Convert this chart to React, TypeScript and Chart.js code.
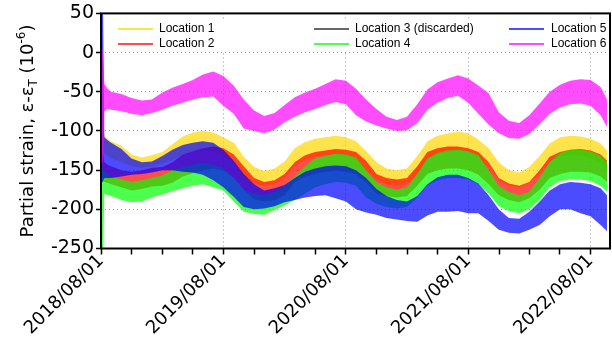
import React, { useEffect, useRef } from "react";
import { Chart, registerables } from "chart.js";

Chart.register(...registerables);

// Sample days, counted from 2018/08/01
const DAYS = [
  3, 6, 10, 20, 30, 61, 91, 122, 152, 183, 213, 244, 274, 304, 335, 365,
  396, 426, 457, 487, 518, 548, 578, 609, 639, 670, 700, 731,
  761, 791, 822, 852, 883, 913, 944, 974, 1004, 1035, 1065, 1096,
  1126, 1157, 1187, 1217, 1248, 1278, 1309, 1339, 1370, 1400, 1431, 1461,
  1491, 1510,
];

// Location 1 (upper / lower envelope of the band)
const LOC1_UPPER = [
  -95, -95, -105, -110,
  -113, -119, -130, -134, -131, -127, -117, -107, -102, -100, -102, -108,
  -115, -133, -146, -151, -148, -139, -122, -114, -110, -108, -106, -108,
  -113, -126, -140, -148, -150, -148, -132, -113, -106, -103, -101, -103,
  -111, -122, -140, -150, -153, -146, -132, -116, -108, -106, -107, -110,
  -116, -125,
];
const LOC1_LOWER = [
  -140, -140, -128, -132,
  -135, -140, -145, -147, -145, -142, -137, -130, -126, -124, -126, -132,
  -140, -158, -167, -170, -168, -160, -145, -137, -133, -131, -130, -132,
  -137, -150, -163, -168, -170, -168, -155, -137, -130, -127, -125, -127,
  -134, -146, -163, -170, -172, -166, -155, -140, -132, -130, -131, -134,
  -140, -148,
];

// Location 2
const LOC2_UPPER = [
  -130, -130, -140, -143,
  -145, -150, -152, -150, -147, -146, -140, -130, -126, -122, -120, -122,
  -130, -145, -160, -165, -163, -155, -140, -131, -127, -125, -123, -124,
  -127, -138, -155, -160, -162, -160, -145, -127, -122, -120, -120, -122,
  -127, -140, -160, -167, -170, -165, -150, -133, -127, -124, -123, -125,
  -130, -138,
];
const LOC2_LOWER = [
  -160, -160, -165, -166,
  -168, -172, -176, -174, -171, -170, -166, -158, -154, -150, -148, -150,
  -160, -175, -187, -190, -188, -182, -165, -158, -155, -152, -150, -152,
  -155, -165, -180, -183, -185, -183, -170, -155, -150, -148, -148, -150,
  -156, -168, -182, -188, -191, -186, -175, -160, -155, -152, -152, -153,
  -158, -165,
];

// Location 4
const LOC4_UPPER = [
  -150, -150, -152, -155,
  -158, -162, -165, -163, -160, -157, -150, -146, -143, -141, -143, -148,
  -160, -175, -180, -182, -178, -170, -158, -145, -135, -132, -129, -130,
  -134, -150, -165, -172, -175, -172, -155, -135, -128, -125, -124, -126,
  -131, -150, -170, -178, -182, -178, -160, -140, -128, -124, -124, -126,
  -132, -140,
];
const LOC4_LOWER = [
  -260, -260, -180, -182,
  -183, -188, -191, -190, -185, -181, -177, -173, -170, -168, -172, -176,
  -190, -203, -206, -207, -201, -195, -188, -180, -172, -168, -165, -166,
  -170, -185, -193, -197, -199, -197, -185, -170, -163, -160, -160, -162,
  -168, -180, -196, -202, -205, -200, -188, -172, -164, -162, -162, -164,
  -170, -178,
];

// Location 5
const LOC5_UPPER = [
  60, 60, -108, -112,
  -115, -123, -135, -140, -139, -132, -124, -118, -115, -113, -115, -124,
  -138, -155, -168, -176, -173, -169, -160, -152, -148, -145, -144, -145,
  -150, -160, -174, -183, -188, -190, -183, -168, -159, -156, -156, -160,
  -167, -182, -200, -211, -212, -203, -190, -176, -168, -165, -166, -168,
  -173, -182,
];
const LOC5_LOWER = [
  -165, -165, -160, -160,
  -160, -158, -156, -155, -153, -150, -150, -152, -153, -156, -163, -172,
  -184, -197, -200, -199, -196, -191, -188, -185, -183, -182, -186, -190,
  -200, -204, -207, -211, -213, -215, -216, -208, -203, -203, -202, -205,
  -205, -215, -226, -230, -231, -226, -220, -209, -200, -200, -205, -209,
  -220, -228,
];

// Location 6
const LOC6_UPPER = [
  5, 0, -40, -46,
  -50, -53, -58, -61, -60, -51, -45, -40, -35, -28, -24, -30,
  -42, -60, -74, -81, -77, -67, -57, -51, -46, -40, -34, -36,
  -46, -60, -72, -82, -86, -82, -66, -47, -38, -33, -29, -33,
  -42, -52, -76, -87, -90, -80, -65, -50, -41, -36, -34, -35,
  -44, -60,
];
const LOC6_LOWER = [
  -140, -140, -75, -72,
  -73, -75, -78, -80, -77, -73, -68, -64, -60, -57, -56, -68,
  -78, -97, -100, -103, -98, -89, -82, -76, -72, -67, -63, -66,
  -80, -88, -93, -97, -100, -99, -90, -73, -64, -58, -55, -64,
  -78, -92, -103, -109, -110, -104, -91, -78, -70, -66, -65, -68,
  -80, -95,
];

const SERIES_NAMES = [
  "Location 1",
  "Location 2",
  "Location 3 (discarded)",
  "Location 4",
  "Location 5",
  "Location 6",
];
const SERIES_COLORS = [
  "rgba(255,215,0,0.7)",
  "rgba(255,0,0,0.7)",
  "rgba(40,40,40,0.7)",
  "rgba(0,255,0,0.7)",
  "rgba(0,0,255,0.7)",
  "rgba(255,0,255,0.7)",
];

const MAJOR_TICK_DAYS = [0, 365, 731, 1096, 1461];
const MAJOR_TICK_LABELS = ["2018/08/01", "2019/08/01", "2020/08/01", "2021/08/01", "2022/08/01"];
const MINOR_TICK_DAYS = [92, 184, 273, 457, 549, 639, 823, 915, 1004, 1188, 1280, 1369];
const Y_TICKS = [-250, -200, -150, -100, -50, 0, 50];

const Y_TICK_FONT = { family: "'DejaVu Sans', sans-serif", size: 19 };
const X_TICK_FONT = { family: "'DejaVu Sans', sans-serif", size: 18 };

function bandDatasets(lower: number[], upper: number[], color: string, order: number, label: string) {
  const lo = {
    label: label + " (lower)",
    data: DAYS.map((d, i) => ({ x: d, y: lower[i] })),
    borderWidth: 0,
    borderColor: "rgba(0,0,0,0)",
    backgroundColor: color,
    pointRadius: 0,
    fill: false,
    order,
  };
  const up = {
    label,
    data: DAYS.map((d, i) => ({ x: d, y: upper[i] })),
    borderWidth: 0,
    borderColor: "rgba(0,0,0,0)",
    backgroundColor: color,
    pointRadius: 0,
    fill: "-1",
    order,
  };
  return [lo, up];
}

const legendPlugin = {
  id: "customLegend",
  afterDatasetsDraw(chart: any) {
    const ctx = chart.ctx as CanvasRenderingContext2D;
    const area = chart.chartArea;
    ctx.save();
    ctx.fillStyle = "#ffffff";
    ctx.fillRect(area.left + 5, 19, area.right - area.left - 8, 32);
    const cols = [
      { lineX: 118, textX: 159 },
      { lineX: 314, textX: 355 },
      { lineX: 509, textX: 551 },
    ];
    const rows = [29, 44];
    ctx.font = "12px 'Liberation Sans', Arial, sans-serif";
    ctx.textBaseline = "middle";
    ctx.textAlign = "left";
    SERIES_NAMES.forEach((name, i) => {
      const c = cols[Math.floor(i / 2)];
      const y = rows[i % 2];
      ctx.strokeStyle = SERIES_COLORS[i];
      ctx.lineWidth = 2;
      ctx.beginPath();
      ctx.moveTo(c.lineX, y);
      ctx.lineTo(c.lineX + 35, y);
      ctx.stroke();
      ctx.fillStyle = "#000";
      ctx.fillText(name, c.textX, y);
    });
    ctx.restore();
  },
  afterDraw(chart: any) {
    const ctx = chart.ctx as CanvasRenderingContext2D;
    const area = chart.chartArea;
    ctx.save();
    // frame
    ctx.strokeStyle = "#000";
    ctx.lineWidth = 2;
    ctx.strokeRect(area.left, area.top, area.right - area.left, area.bottom - area.top);
    // y-axis title with subscript / superscript
    const big = "18px 'DejaVu Sans', sans-serif";
    const small = "12px 'DejaVu Sans', sans-serif";
    const parts: [string, string, number][] = [
      ["Partial strain, ε-ε", big, 0],
      ["T", small, 4],
      [" (10", big, 0],
      ["-6", small, -8],
      [")", big, 0],
    ];
    let total = 0;
    parts.forEach(([t, f]) => {
      ctx.font = f;
      total += ctx.measureText(t).width;
    });
    const cy = (area.top + area.bottom) / 2;
    ctx.translate(33, cy);
    ctx.rotate(-Math.PI / 2);
    ctx.fillStyle = "#000";
    ctx.textBaseline = "alphabetic";
    ctx.textAlign = "left";
    let x = -total / 2;
    parts.forEach(([t, f, dy]) => {
      ctx.font = f;
      ctx.fillText(t, x, dy);
      x += ctx.measureText(t).width;
    });
    ctx.restore();
  },
};

export default function App() {
  const canvasRef = useRef<HTMLCanvasElement | null>(null);

  useEffect(() => {
    if (!canvasRef.current) return;
    const datasets = [
      ...bandDatasets(LOC1_LOWER, LOC1_UPPER, SERIES_COLORS[0], 10, SERIES_NAMES[0]),
      ...bandDatasets(LOC2_LOWER, LOC2_UPPER, SERIES_COLORS[1], 8, SERIES_NAMES[1]),
      ...bandDatasets(LOC4_LOWER, LOC4_UPPER, SERIES_COLORS[3], 6, SERIES_NAMES[3]),
      ...bandDatasets(LOC5_LOWER, LOC5_UPPER, SERIES_COLORS[4], 4, SERIES_NAMES[4]),
      ...bandDatasets(LOC6_LOWER, LOC6_UPPER, SERIES_COLORS[5], 2, SERIES_NAMES[5]),
    ];
    const allXTicks = [...MAJOR_TICK_DAYS, ...MINOR_TICK_DAYS].sort((a, b) => a - b);
    const chart = new Chart(canvasRef.current, {
      type: "line",
      data: { datasets: datasets as any },
      options: {
        animation: false,
        responsive: false,
        devicePixelRatio: 1,
        layout: { padding: { top: 12, right: 2, left: 0, bottom: 0 } },
        plugins: {
          legend: { display: false },
          tooltip: { enabled: false },
        },
        elements: { line: { tension: 0 } },
        scales: {
          x: {
            type: "linear",
            min: 0,
            max: 1519,
            afterBuildTicks: (s: any) => {
              s.ticks = allXTicks.map((v) => ({ value: v }));
            },
            afterFit: (s: any) => {
              s.height = 89.5;
            },
            ticks: {
              autoSkip: false,
              minRotation: 45,
              maxRotation: 45,
              padding: -4,
              color: "#000",
              font: X_TICK_FONT,
              callback: (v: any) => {
                const i = MAJOR_TICK_DAYS.indexOf(Number(v));
                return i >= 0 ? MAJOR_TICK_LABELS[i] : "";
              },
            },
            grid: {
              color: (c: any) =>
                c.tick && MAJOR_TICK_DAYS.includes(c.tick.value) && c.tick.value !== 0 ? "#999999" : "rgba(0,0,0,0)",
              lineWidth: 1,
              tickColor: "#000",
              tickLength: 6,
              tickWidth: 1.5,
            },
            border: { display: false, dash: [1, 3] },
          },
          y: {
            type: "linear",
            min: -250,
            max: 50,
            afterBuildTicks: (s: any) => {
              s.ticks = Y_TICKS.map((v) => ({ value: v }));
            },
            afterFit: (s: any) => {
              s.width = 101;
            },
            ticks: {
              padding: 2,
              color: "#000",
              font: Y_TICK_FONT,
            },
            grid: {
              color: (c: any) =>
                c.tick && (c.tick.value === -250 || c.tick.value === 50) ? "rgba(0,0,0,0)" : "#999999",
              lineWidth: 1,
              tickColor: "#000",
              tickLength: 5,
              tickWidth: 1.5,
            },
            border: { display: false, dash: [1, 3] },
          },
        },
      },
      plugins: [legendPlugin],
    });
    return () => chart.destroy();
  }, []);

  return (
    <div style={{ position: "absolute", left: 0, top: 0, width: 612, height: 338, background: "#fff" }}>
      <canvas ref={canvasRef} width={612} height={338} style={{ display: "block" }} />
    </div>
  );
}
